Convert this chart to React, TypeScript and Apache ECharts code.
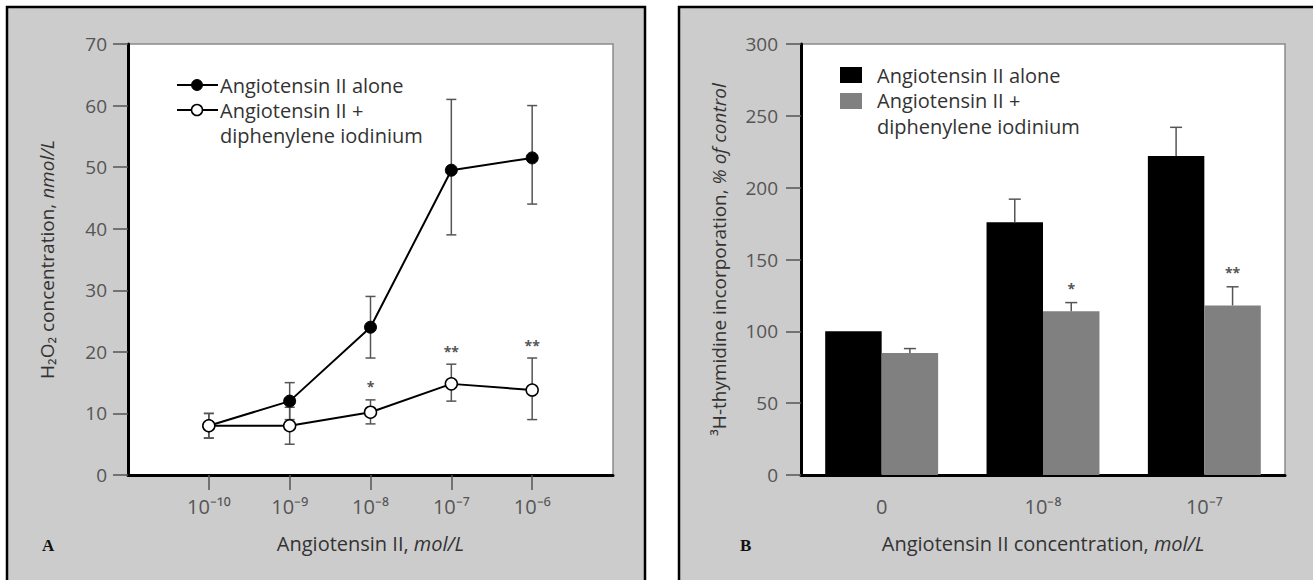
import React, { useEffect, useRef } from 'react';
import * as echarts from 'echarts';

// ---- Panel A data: H2O2 concentration (nmol/L) vs log10 Angiotensin II (mol/L)
const logConc = [-10, -9, -8, -7, -6];
const aloneMean = [8, 12, 24, 49.5, 51.5];
const aloneLow = [6, 9, 19, 39, 44];
const aloneHigh = [10, 15, 29, 61, 60];
const dpiMean = [8, 8, 10.2, 14.8, 13.8];
const dpiLow = [6, 5, 8.3, 12, 9];
const dpiHigh = [10, 11, 12.2, 18, 19];
const dpiSig = ['', '', '*', '**', '**'];

// ---- Panel B data: 3H-thymidine incorporation (% of control)
const barCategories = ['0', '10⁻⁸', '10⁻⁷'];
const barAlone = [100, 176, 222];
const barAloneHigh = [null, 192, 242];
const barDpi = [85, 114, 118];
const barDpiHigh = [88, 120, 131];
const barSig = ['', '*', '**'];

const seriesAlone = 'Angiotensin II alone';
const seriesDpi = 'Angiotensin II +';
const seriesDpi2 = 'diphenylene iodinium';

const SUP: Record<string, string> = {
  '-': '⁻', '0': '⁰', '1': '¹', '2': '²', '3': '³', '4': '⁴',
  '5': '⁵', '6': '⁶', '7': '⁷', '8': '⁸', '9': '⁹',
};
const pow10 = (v: number) => '10' + String(v).split('').map((c) => SUP[c] || c).join('');

const FONT = 'Open Sans';
const TXT = '#333';
const TICK = '#555';
const ERR = '#555';

export default function App() {
  const ref = useRef<HTMLDivElement>(null);
  useEffect(() => {
    document.body.style.margin = '0';
    const chart = echarts.init(ref.current!, null, { renderer: 'svg' });

    const errStyle = { stroke: ERR, lineWidth: 1.5 };

    const lineErrRender = (sig: string[] | null, cap: number) => (params: any, api: any) => {
      const x = api.value(0);
      const lo = api.coord([x, api.value(1)]);
      const hi = api.coord([x, api.value(2)]);
      const children: any[] = [
        { type: 'line', shape: { x1: lo[0], y1: lo[1], x2: hi[0], y2: hi[1] }, style: errStyle },
        { type: 'line', shape: { x1: lo[0] - cap, y1: lo[1], x2: lo[0] + cap, y2: lo[1] }, style: errStyle },
        { type: 'line', shape: { x1: hi[0] - cap, y1: hi[1], x2: hi[0] + cap, y2: hi[1] }, style: errStyle },
      ];
      if (sig && sig[params.dataIndex]) {
        children.push({
          type: 'text',
          style: {
            text: sig[params.dataIndex], x: hi[0], y: hi[1] - 6,
            align: 'center', verticalAlign: 'bottom', fill: '#555',
            font: `bold 14px "${FONT}"`,
          },
        });
      }
      return { type: 'group', children };
    };

    const barErrRender = (side: number, sig: string[] | null) => (params: any, api: any) => {
      const idx = api.value(0);
      const band = api.size([1, 0])[0];
      const off = side * band * 0.175;
      const base = api.coord([idx, api.value(1)]);
      const hi = api.coord([idx, api.value(2)]);
      const x = base[0] + off;
      const cap = 6;
      const children: any[] = [
        { type: 'line', shape: { x1: x, y1: base[1], x2: x, y2: hi[1] }, style: errStyle },
        { type: 'line', shape: { x1: x - cap, y1: hi[1], x2: x + cap, y2: hi[1] }, style: errStyle },
      ];
      if (sig && sig[params.dataIndex]) {
        children.push({
          type: 'text',
          style: {
            text: sig[params.dataIndex], x, y: hi[1] - 7,
            align: 'center', verticalAlign: 'bottom', fill: '#555',
            font: `bold 14px "${FONT}"`,
          },
        });
      }
      return { type: 'group', children };
    };

    const nameStyle = (size: number) => ({
      color: TXT, fontSize: size, fontFamily: FONT,
      rich: {
        n: { color: TXT, fontSize: size, fontFamily: FONT },
        i: { color: TXT, fontSize: size, fontFamily: FONT, fontStyle: 'italic' },
      },
    });

    const legendText = (x: number, y: number, text: string) => ({
      type: 'text', x, y, z: 100,
      style: { text, fill: TXT, font: `20px "${FONT}"`, verticalAlign: 'middle', align: 'left' },
    });

    const option: any = {
      animation: false,
      textStyle: { fontFamily: FONT },
      graphic: [
        { type: 'rect', z: -10, shape: { x: 7, y: 7, width: 638, height: 600 }, style: { fill: '#cccccc', stroke: '#000', lineWidth: 2.5 } },
        { type: 'rect', z: -10, shape: { x: 679, y: 7, width: 640, height: 600 }, style: { fill: '#cccccc', stroke: '#000', lineWidth: 2.5 } },
        { type: 'text', x: 42, y: 545, style: { text: 'A', fill: '#111', font: `bold 17px "Liberation Serif"`, verticalAlign: 'middle' } },
        { type: 'text', x: 740, y: 545, style: { text: 'B', fill: '#111', font: `bold 17px "Liberation Serif"`, verticalAlign: 'middle' } },
        // Legend A
        { type: 'line', z: 100, shape: { x1: 177, y1: 85, x2: 218, y2: 85 }, style: { stroke: '#000', lineWidth: 2 } },
        { type: 'circle', z: 101, shape: { cx: 197, cy: 85, r: 5.5 }, style: { fill: '#000', stroke: '#000', lineWidth: 1 } },
        legendText(220, 85, seriesAlone),
        { type: 'line', z: 100, shape: { x1: 177, y1: 110, x2: 218, y2: 110 }, style: { stroke: '#000', lineWidth: 2 } },
        { type: 'circle', z: 101, shape: { cx: 197, cy: 110, r: 5.5 }, style: { fill: '#fff', stroke: '#000', lineWidth: 1.5 } },
        legendText(220, 110, seriesDpi),
        legendText(220, 135, seriesDpi2),
        // Legend B
        { type: 'rect', z: 100, shape: { x: 840, y: 67, width: 22, height: 16 }, style: { fill: '#000' } },
        legendText(877, 75, seriesAlone),
        { type: 'rect', z: 100, shape: { x: 840, y: 93, width: 22, height: 16 }, style: { fill: '#808080' } },
        legendText(877, 100, seriesDpi),
        legendText(877, 126, seriesDpi2),
      ],
      grid: [
        { left: 128, top: 44, width: 485, height: 431, show: true, backgroundColor: '#fff', borderColor: '#8a8a8a', borderWidth: 1.5 },
        { left: 801, top: 44, width: 484, height: 431, show: true, backgroundColor: '#fff', borderColor: '#8a8a8a', borderWidth: 1.5 },
      ],
      xAxis: [
        {
          gridIndex: 0, type: 'value', min: -11, max: -5, interval: 1,
          axisLine: { lineStyle: { color: '#000', width: 3 } },
          axisTick: { customValues: logConc, length: 15, lineStyle: { color: TICK, width: 1.5 } },
          axisLabel: { customValues: logConc, formatter: (v: number) => pow10(v), color: TICK, fontSize: 20, margin: 21 },
          splitLine: { show: false },
          name: '{n|Angiotensin II, }{i|mol/L}', nameLocation: 'middle', nameGap: 58, nameTextStyle: nameStyle(20),
        },
        {
          gridIndex: 1, type: 'category', data: barCategories,
          axisLine: { lineStyle: { color: '#000', width: 3 } },
          axisTick: { alignWithLabel: true, length: 15, lineStyle: { color: TICK, width: 1.5 } },
          axisLabel: { color: TICK, fontSize: 20, margin: 21 },
          name: '{n|Angiotensin II concentration, }{i|mol/L}', nameLocation: 'middle', nameGap: 58, nameTextStyle: nameStyle(20),
        },
      ],
      yAxis: [
        {
          gridIndex: 0, type: 'value', min: 0, max: 70, interval: 10,
          axisLine: { show: true, lineStyle: { color: '#000', width: 3 } },
          axisTick: { show: true, length: 15, lineStyle: { color: TICK, width: 1.5 } },
          axisLabel: { color: TICK, fontSize: 19, margin: 21 },
          splitLine: { show: false },
          name: '{n|H₂O₂ concentration, }{i|nmol/L}', nameLocation: 'middle', nameGap: 72, nameTextStyle: nameStyle(19),
        },
        {
          gridIndex: 1, type: 'value', min: 0, max: 300, interval: 50,
          axisLine: { show: true, lineStyle: { color: '#000', width: 3 } },
          axisTick: { show: true, length: 15, lineStyle: { color: TICK, width: 1.5 } },
          axisLabel: { color: TICK, fontSize: 19, margin: 23 },
          splitLine: { show: false },
          name: '{n|³H-thymidine incorporation, }{i|% of control}', nameLocation: 'middle', nameGap: 73, nameTextStyle: nameStyle(19),
        },
      ],
      series: [
        {
          type: 'custom', xAxisIndex: 0, yAxisIndex: 0, z: 1, silent: true,
          renderItem: lineErrRender(null, 5),
          encode: { x: 0, y: [1, 2] },
          data: logConc.map((x, i) => [x, aloneLow[i], aloneHigh[i]]),
        },
        {
          type: 'custom', xAxisIndex: 0, yAxisIndex: 0, z: 1, silent: true,
          renderItem: lineErrRender(dpiSig, 5),
          encode: { x: 0, y: [1, 2] },
          data: logConc.map((x, i) => [x, dpiLow[i], dpiHigh[i]]),
        },
        {
          name: seriesAlone, type: 'line', xAxisIndex: 0, yAxisIndex: 0, z: 3,
          data: logConc.map((x, i) => [x, aloneMean[i]]),
          symbol: 'circle', symbolSize: 12,
          lineStyle: { color: '#000', width: 2 },
          itemStyle: { color: '#000', borderColor: '#000', borderWidth: 1 },
        },
        {
          name: seriesDpi + ' ' + seriesDpi2, type: 'line', xAxisIndex: 0, yAxisIndex: 0, z: 4,
          data: logConc.map((x, i) => [x, dpiMean[i]]),
          symbol: 'circle', symbolSize: 12, showAllSymbol: true,
          lineStyle: { color: '#000', width: 2 },
          itemStyle: { color: '#fff', borderColor: '#000', borderWidth: 1.5 },
        },
        {
          name: seriesAlone, type: 'bar', xAxisIndex: 1, yAxisIndex: 1,
          data: barAlone, barGap: '0%', barCategoryGap: '30%',
          itemStyle: { color: '#000' },
        },
        {
          name: seriesDpi + ' ' + seriesDpi2, type: 'bar', xAxisIndex: 1, yAxisIndex: 1,
          data: barDpi, barGap: '0%', barCategoryGap: '30%',
          itemStyle: { color: '#808080' },
        },
        {
          type: 'custom', xAxisIndex: 1, yAxisIndex: 1, z: 5, silent: true,
          renderItem: barErrRender(-1, null),
          encode: { x: 0, y: [1, 2] },
          data: barAlone.map((v, i) => [i, v, barAloneHigh[i]]).filter((d) => d[2] != null),
        },
        {
          type: 'custom', xAxisIndex: 1, yAxisIndex: 1, z: 5, silent: true,
          renderItem: barErrRender(1, barSig),
          encode: { x: 0, y: [1, 2] },
          data: barDpi.map((v, i) => [i, v, barDpiHigh[i]]),
        },
      ],
    };
    chart.setOption(option);
    return () => chart.dispose();
  }, []);
  return <div ref={ref} style={{ width: 1313, height: 580 }} />;
}
